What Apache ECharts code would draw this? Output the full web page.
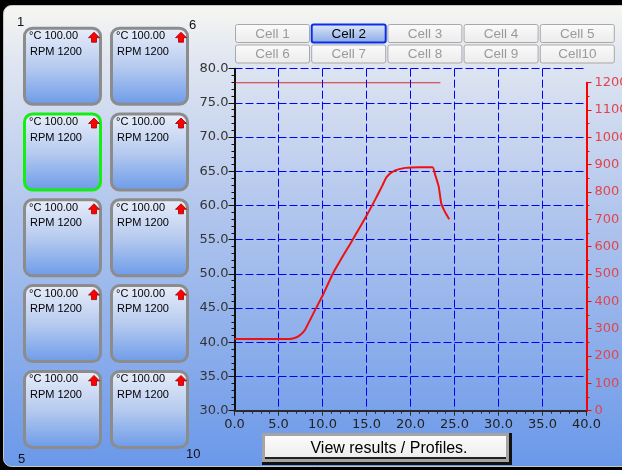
<!DOCTYPE html>
<html>
<head>
<meta charset="utf-8">
<script src="https://cdn.jsdelivr.net/npm/echarts@6/dist/echarts.min.js"></script>
<style>
  body { margin: 0; background: #000; }
  #main { width: 622px; height: 470px; }
</style>
</head>
<body>
<div id="main"></div>
<script>
// time (min) and cell temperature (°C) for the selected cell
var timeMin = [0, 2, 4, 6.3, 7.0, 7.5, 8.0, 9.15, 10.0, 11.2, 12.4, 13.3, 14.1, 15.0, 16.0, 16.8, 17.3, 18.2, 19.4, 21.0, 22.5, 22.8, 23.2, 23.5, 23.9, 24.4];
var tempC = [40.5, 40.5, 40.5, 40.5, 40.7, 41.1, 41.8, 44.7, 46.8, 50.1, 52.8, 54.7, 56.5, 58.5, 60.9, 62.9, 64.2, 65.1, 65.5, 65.6, 65.6, 64.5, 62.8, 60.3, 59.1, 58.0];
// stirrer speed (RPM)
var rpmTime = [0, 23.4];
var rpmValue = [1200, 1200];
// cells panel
var cellNames = ["Cell 1", "Cell 2", "Cell 3", "Cell 4", "Cell 5", "Cell 6", "Cell 7", "Cell 8", "Cell 9", "Cell10"];
var cardTemps = ["100.00", "100.00", "100.00", "100.00", "100.00", "100.00", "100.00", "100.00", "100.00", "100.00"];
var cardRpm = [1200, 1200, 1200, 1200, 1200, 1200, 1200, 1200, 1200, 1200];
var selectedCell = 1;
var buttonText = "View results / Profiles.";

var G = echarts.graphic;
var els = [];

// background panel
els.push({ type: "rect", z: -20, shape: { x: 0, y: 0, width: 622, height: 470 }, style: { fill: "#000" } });
els.push({
  type: "rect", z: -19,
  shape: { x: 3.5, y: 5.5, width: 700, height: 461, r: 8 },
  style: {
    fill: new G.LinearGradient(0, 0, 0, 1, [
      { offset: 0, color: "#f7f6f1" },
      { offset: 0.12, color: "#e0e6f1" },
      { offset: 0.42, color: "#b5c8ed" },
      { offset: 1, color: "#6a98e9" }
    ]),
    stroke: "#c8c8c8", lineWidth: 1
  }
});

// cards: column 1 = cells 1..5, column 2 = cells 6..10
for (var c = 0; c < 2; c++) {
  for (var r = 0; r < 5; r++) {
    var idx = c * 5 + r;
    var cx = c ? 110 : 23;
    var cy = 26.7 + r * 85.8;
    els.push({
      type: "rect",
      shape: { x: cx + 1.5, y: cy + 1.5, width: 76, height: 76, r: 8 },
      style: {
        fill: new G.LinearGradient(0, 0, 0, 1, [
          { offset: 0, color: "#eaeffa" },
          { offset: 0.5, color: "#b7cbef" },
          { offset: 1, color: "#6b9ae9" }
        ]),
        stroke: idx === selectedCell ? "#14ee14" : "#8c8c8c",
        lineWidth: 3
      }
    });
    els.push({ type: "text", x: cx + 6, y: cy + 4, style: { text: "°C " + cardTemps[idx], font: '11px "Liberation Sans"', fill: "#000" } });
    els.push({ type: "text", x: cx + 7, y: cy + 19.5, style: { text: "RPM " + cardRpm[idx], font: '11px "Liberation Sans"', fill: "#000" } });
    els.push({
      type: "polygon", x: cx, y: cy,
      shape: { points: [[65.5, 11], [71, 5.5], [76.5, 11], [73.5, 11], [73.5, 15.5], [68.5, 15.5], [68.5, 11]] },
      style: { fill: "#ff0000", stroke: "#a00000", lineWidth: 0.8 }
    });
  }
}
els.push({ type: "text", x: 17, y: 15.5, style: { text: "1", font: '13px "Liberation Sans"', fill: "#111" } });
els.push({ type: "text", x: 189, y: 18.5, style: { text: "6", font: '13px "Liberation Sans"', fill: "#111" } });
els.push({ type: "text", x: 18, y: 452.5, style: { text: "5", font: '13px "Liberation Sans"', fill: "#111" } });
els.push({ type: "text", x: 186, y: 447.5, style: { text: "10", font: '13px "Liberation Sans"', fill: "#111" } });

// cell buttons
for (var i = 0; i < cellNames.length; i++) {
  var bx = 235 + (i % 5) * 76.2;
  var by = i < 5 ? 24 : 44.5;
  var sel = i === selectedCell;
  els.push({
    type: "rect",
    shape: { x: bx + 0.5, y: by + 0.5, width: 74, height: 18, r: 2 },
    style: {
      fill: sel
        ? new G.LinearGradient(0, 0, 0, 1, [{ offset: 0, color: "#e2ebfa" }, { offset: 1, color: "#86a7e6" }])
        : new G.LinearGradient(0, 0, 0, 1, [{ offset: 0, color: "#fbfbfb" }, { offset: 1, color: "#ebebeb" }]),
      stroke: sel ? "#0a2ee6" : "#a8a8a8",
      lineWidth: sel ? 2 : 1
    }
  });
  els.push({
    type: "text", x: bx + 37.5, y: by + 9.8,
    style: { text: cellNames[i], font: '13.5px "Liberation Sans"', fill: sel ? "#000" : "#9a9a9a", align: "center", verticalAlign: "middle" }
  });
}

// view results button
els.push({ type: "rect", shape: { x: 262, y: 433, width: 250, height: 32 }, style: { fill: "#111" } });
els.push({ type: "rect", shape: { x: 262, y: 433, width: 247, height: 29 }, style: { fill: "#a4a4a4" } });
els.push({
  type: "rect", shape: { x: 265, y: 436, width: 241, height: 23 },
  style: { fill: new G.LinearGradient(0, 0, 0, 1, [{ offset: 0, color: "#fbfbfb" }, { offset: 1, color: "#ececec" }]) }
});
els.push({ type: "rect", shape: { x: 265, y: 457, width: 241, height: 2 }, style: { fill: "#222" } });
els.push({
  type: "text", x: 389, y: 448.5,
  style: { text: buttonText, font: '16px "Liberation Sans"', fill: "#000", align: "center", verticalAlign: "middle" }
});

var blue = "#0000ff";
var chart = echarts.init(document.getElementById("main"));
var option = {
  animation: false,
  backgroundColor: "transparent",
  graphic: { elements: els },
  grid: [
    { left: 234.5, right: 35.5, top: 68.7, bottom: 59.3, outerBoundsMode: "none" },
    { left: 234.5, right: 35.5, top: 82.7, bottom: 59.3, outerBoundsMode: "none" }
  ],
  xAxis: [
    {
      type: "value", gridIndex: 0, min: 0, max: 40, interval: 5,
      axisLine: { onZero: false, lineStyle: { color: "#2a2a2a", width: 2 } },
      axisTick: { length: 5, lineStyle: { color: "#2a2a2a" } },
      minorTick: { show: true, splitNumber: 5, length: 3, lineStyle: { color: "#2a2a2a" } },
      axisLabel: { color: "#222", fontSize: 13, fontFamily: "DejaVu Sans", margin: 7, formatter: function (v) { return v.toFixed(1); } },
      splitLine: { show: true, lineStyle: { type: [8, 3], width: 1, color: ["transparent", blue, blue, blue, blue, blue, blue, blue, "transparent"] } }
    },
    { type: "value", gridIndex: 1, min: 0, max: 40, show: false }
  ],
  yAxis: [
    {
      type: "value", gridIndex: 0, min: 30, max: 80, interval: 5,
      axisLine: { show: true, onZero: false, lineStyle: { color: "#111", width: 2 } },
      axisTick: { show: true, length: 6, lineStyle: { color: "#111" } },
      minorTick: { show: true, splitNumber: 5, length: 3, lineStyle: { color: "#111" } },
      axisLabel: { color: "#333", fontSize: 13, fontFamily: "DejaVu Sans", margin: 6, formatter: function (v) { return v.toFixed(1); } },
      splitLine: { show: true, lineStyle: { type: [8, 3], width: 1, color: blue } }
    },
    {
      type: "value", gridIndex: 1, position: "right", min: 0, max: 1200, interval: 100,
      axisLine: { show: true, onZero: false, lineStyle: { color: "#ff0000", width: 2 } },
      axisTick: { show: true, length: 5, lineStyle: { color: "#ff0000" } },
      minorTick: { show: true, splitNumber: 2, length: 3, lineStyle: { color: "#ff0000" } },
      axisLabel: { color: "#e2444c", fontSize: 13, fontFamily: "DejaVu Sans", margin: 8, formatter: function (v) { return String(v); } },
      splitLine: { show: false }
    }
  ],
  series: [
    {
      name: "Temperature", type: "line", xAxisIndex: 0, yAxisIndex: 0,
      data: timeMin.map(function (t, k) { return [t, tempC[k]]; }),
      showSymbol: false, smooth: 0.2,
      lineStyle: { color: "#ee1111", width: 2 }, z: 5
    },
    {
      name: "RPM", type: "line", xAxisIndex: 1, yAxisIndex: 1,
      data: rpmTime.map(function (t, k) { return [t, rpmValue[k]]; }),
      showSymbol: false,
      lineStyle: { color: "#cc0000", width: 1 }, z: 4
    }
  ]
};
chart.setOption(option);
</script>
</body>
</html>
